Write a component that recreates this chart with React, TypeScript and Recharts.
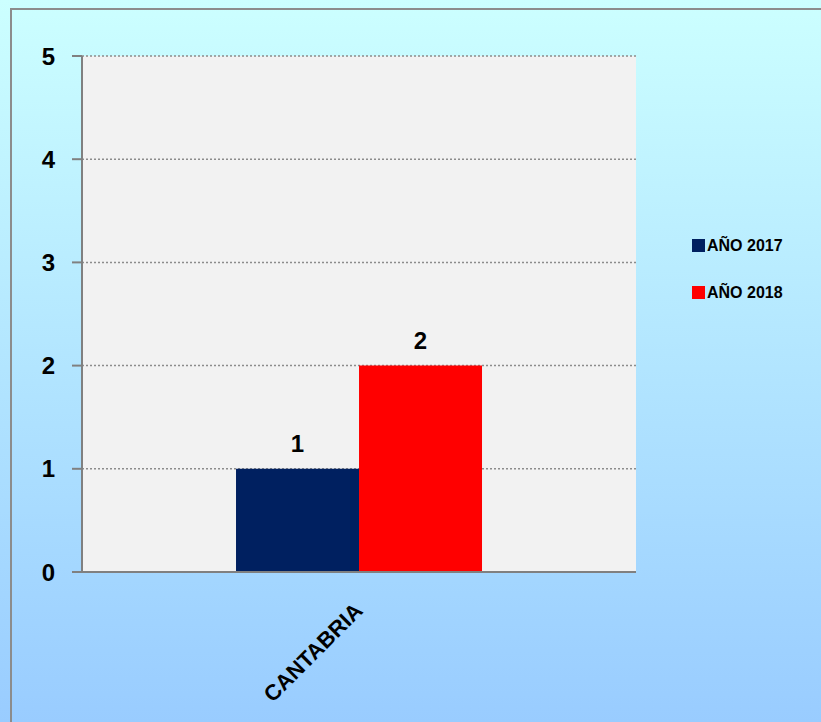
import React from 'react';
import { BarChart, Bar, XAxis, YAxis, CartesianGrid, LabelList, Legend } from 'recharts';

const categories = ['CANTABRIA'];
const values2017 = [1];
const values2018 = [2];
const yTicks = [0, 1, 2, 3, 4, 5];

const data = categories.map((name, i) => ({
  name,
  y2017: values2017[i],
  y2018: values2018[i],
}));

const FONT = '"Liberation Sans", Arial, sans-serif';

const legendItems = [
  { label: 'AÑO 2017', color: '#002060' },
  { label: 'AÑO 2018', color: '#ff0000' },
];

const renderLegend = () => (
  <div style={{ fontFamily: FONT, fontWeight: 'bold', fontSize: 16, color: '#000' }}>
    {legendItems.map((it) => (
      <div key={it.label} style={{ display: 'flex', alignItems: 'center', height: 47 }}>
        <span style={{ display: 'inline-block', width: 13, height: 13, background: it.color, marginRight: 2 }} />
        {it.label}
      </div>
    ))}
  </div>
);

const XTick = (props: any) => {
  const { x, y, payload } = props;
  const ax = x + 5;
  const ay = y + 32;
  return (
    <text
      x={ax}
      y={ay}
      textAnchor="end"
      transform={`rotate(-45, ${ax}, ${ay})`}
      fontFamily={FONT}
      fontWeight="bold"
      fontSize={22}
      fill="#000"
    >
      {payload.value}
    </text>
  );
};

export default function App() {
  return (
    <div
      style={{
        position: 'absolute',
        left: 0,
        top: 0,
        width: 821,
        height: 722,
        overflow: 'hidden',
        background: 'linear-gradient(#ccffff, #99ccff)',
      }}
    >
      <div
        style={{
          position: 'absolute',
          left: 10,
          top: 8,
          width: 830,
          height: 730,
          border: '2px solid #8c8c8c',
          boxSizing: 'border-box',
        }}
      />
      <BarChart
        width={821}
        height={722}
        data={data}
        margin={{ top: 56, right: 65, bottom: 0, left: 0 }}
        barCategoryGap="27.8%"
        barGap={0}
        style={{ position: 'absolute', left: 0, top: 0 }}
      >
        <CartesianGrid
          vertical={false}
          fill="#f2f2f2"
          stroke="#8c8c8c"
          strokeDasharray="2 2"
          strokeWidth={1.5}
        />
        <XAxis
          dataKey="name"
          height={150}
          axisLine={{ stroke: '#808080', strokeWidth: 2 }}
          tickLine={false}
          tick={<XTick />}
          interval={0}
        />
        <YAxis
          width={82}
          domain={[0, 5]}
          ticks={yTicks}
          interval={0}
          axisLine={{ stroke: '#808080', strokeWidth: 2 }}
          tickLine={{ stroke: '#808080', strokeWidth: 2 }}
          tickSize={10}
          tickMargin={17}
          tick={{ fontFamily: FONT, fontWeight: 'bold', fontSize: 24, fill: '#000' }}
        />
        <Legend
          layout="vertical"
          verticalAlign="top"
          align="right"
          content={renderLegend}
          wrapperStyle={{ left: 692, top: 222, width: 120 }}
        />
        <Bar dataKey="y2017" fill="#002060" isAnimationActive={false}>
          <LabelList
            dataKey="y2017"
            position="top"
            offset={17}
            style={{ fontFamily: FONT, fontWeight: 'bold', fontSize: 24, fill: '#000' }}
          />
        </Bar>
        <Bar dataKey="y2018" fill="#ff0000" isAnimationActive={false}>
          <LabelList
            dataKey="y2018"
            position="top"
            offset={17}
            style={{ fontFamily: FONT, fontWeight: 'bold', fontSize: 24, fill: '#000' }}
          />
        </Bar>
      </BarChart>
    </div>
  );
}
